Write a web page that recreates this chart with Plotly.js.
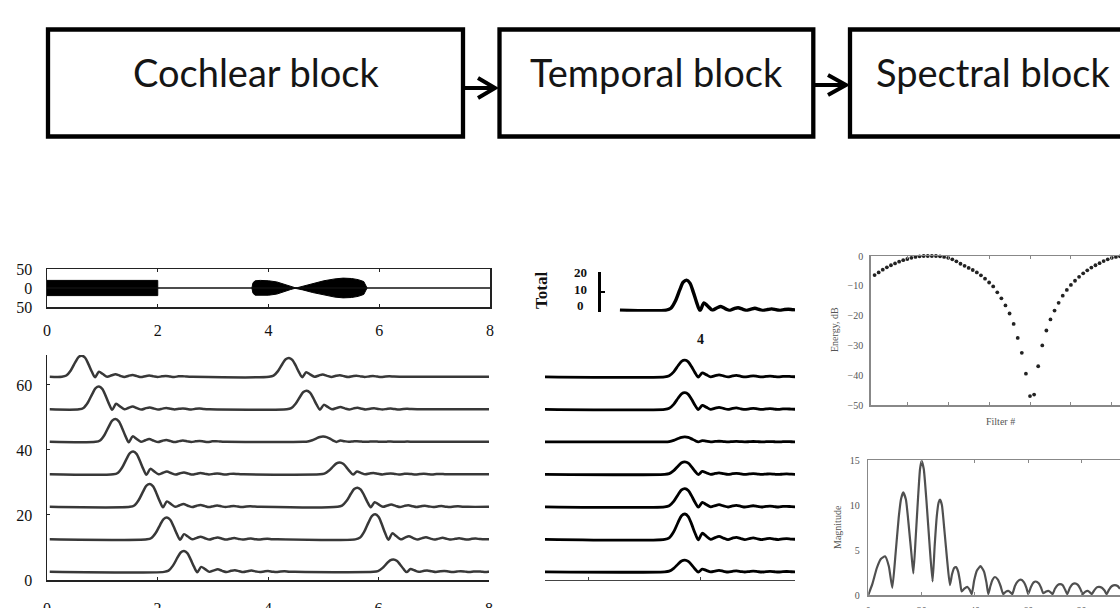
<!DOCTYPE html>
<html><head><meta charset="utf-8">
<script src="https://cdn.plot.ly/plotly-3.0.1.min.js"></script>
<style>html,body{margin:0;padding:0;background:#fff}#chart{width:1120px;height:608px}</style>
</head><body><div id="chart"></div>
<script>
// ---------- Block diagram labels ----------
const blockLabels = ['Cochlear block', 'Temporal block', 'Spectral block'];

// ---------- Left top: stimulus waveform ----------
const waveXTicks = [0, 2, 4, 6, 8];
const waveYTickVals = [-50, 0, 50];
const waveYTickText = ['50', '0', '50'];
const burst1T = [0.0, 0.0, 2.0, 2.0];
const burst1A = [0, 20, 20, 0];
const burst2T = [3.70, 3.72, 3.76, 3.85, 4.00, 4.15, 4.28, 4.40, 4.48, 4.52, 4.62, 4.80, 5.00, 5.20, 5.35, 5.50, 5.62, 5.72, 5.78];
const burst2A = [0, 14, 19, 20, 19, 16, 10, 4, 0.8, 0.8, 5, 12, 19, 24, 26, 25, 22, 17, 0];

// ---------- Left bottom: cochlear channels ----------
const chanXTicks = [0, 2, 4, 6, 8];
const chanYTicks = [0, 20, 40, 60];
const chanBase = [62.5, 52.5, 42.5, 32.5, 22.5, 12.5, 2.5];
const chanPeak1T = [0.63, 0.94, 1.24, 1.56, 1.86, 2.17, 2.48];
const chanPeak1A = [6.5, 7.0, 7.0, 7.0, 7.0, 6.7, 6.4];
const chanPeak2T = [4.38, 4.70, 5.00, 5.30, 5.62, 5.94, 6.27];
const chanPeak2A = [5.8, 5.7, 1.6, 3.6, 5.9, 7.7, 3.8];
// pulse shape (time offset from peak, fraction of peak height)
const pulseDt    = [-0.36, -0.28, -0.20, -0.12, -0.06, 0, 0.06, 0.12, 0.18, 0.24, 0.31, 0.38, 0.46, 0.54, 0.61, 0.69, 0.77, 0.85, 0.92, 1.00, 1.07, 1.15, 1.22, 1.30, 1.37, 1.45, 1.52, 1.60, 1.67, 1.75, 1.82, 1.90, 2.00];
const pulseShape = [0, 0.06, 0.30, 0.68, 0.93, 1, 0.90, 0.60, 0.25, -0.02, 0.24, 0.13, 0.0, 0.07, 0.12, 0.05, -0.01, 0.05, 0.08, 0.03, -0.01, 0.03, 0.06, 0.02, -0.01, 0.02, 0.04, 0.01, -0.01, 0.02, 0.03, 0.01, 0];

// ---------- Middle: temporal block outputs ----------
const tempBase = [62.5, 52.5, 42.5, 32.5, 22.5, 12.5, 2.5];
const tempPeakT = [3.73, 3.73, 3.73, 3.73, 3.73, 3.73, 3.73];
const tempPeakA = [5.1, 5.1, 1.5, 3.8, 5.6, 7.8, 3.6];
const tempXTicks = [2, 4];
const totalBase = 0.8, totalPeakT = 3.76, totalPeakA = 15;
const totalTickText = ['20', '10', '0'];
const totalXTickText = ['4'];

// ---------- Right top: energy per filter ----------
const filterNum = [1,2,3,4,5,6,7,8,9,10,11,12,13,14,15,16,17,18,19,20,21,22,23,24,25,26,27,28,29,30,31,32,33,34,35,36,37,38,39,40,41,42,43,44,45,46,47,48,49,50,51,52,53,54,55,56,57,58,59,60,61,62];
const energyDb = [-7.5,-6.4,-5.5,-4.6,-3.8,-3.1,-2.5,-1.9,-1.4,-1.0,-0.6,-0.3,-0.1,0,0,0,0,-0.1,-0.3,-0.6,-1.1,-1.8,-2.6,-3.3,-4.0,-4.7,-5.5,-6.5,-7.6,-8.9,-10.2,-12.2,-14.2,-16.6,-19.3,-22.8,-27.5,-32.5,-39.5,-47.0,-46.5,-37.0,-30.0,-25.0,-21.3,-18.3,-15.7,-13.3,-11.4,-9.7,-8.3,-7.0,-5.8,-4.8,-3.9,-3.1,-2.4,-1.7,-1.1,-0.6,-0.3,-0.1];
const energyYTicks = [0, -10, -20, -30, -40, -50];
const filterXTicks = [10, 20, 30, 40, 50, 60];

// ---------- Right bottom: magnitude spectrum ----------
const magX = [0, 1.5, 3.2, 4.7, 6.3, 7.7, 9.0, 10.2, 11.4, 12.3, 13.1, 14.1, 15.3, 16.2, 16.9, 17.8, 18.7, 19.4, 20.0, 20.8, 21.8, 23.0, 24.1, 24.9, 25.7, 26.4, 26.9, 27.6, 28.6, 29.6, 30.6, 31.4, 32.2, 32.9, 33.7, 34.4, 35.0, 36.0, 37.1, 38.0, 38.8, 39.7, 40.7, 42.1, 43.4, 44.3, 45.0, 45.8, 46.6, 47.5, 48.6, 49.6, 50.6, 51.5, 52.5, 53.3, 54.0, 55.0, 56.0, 57.2, 58.4, 59.3, 60.0, 61.0, 62.0, 62.8, 63.9, 64.8, 65.6, 66.5, 67.5, 68.4, 69.1, 70.0, 71.0, 71.9, 72.9, 73.8, 74.6, 75.6, 76.6, 77.5, 78.5, 79.5, 80.4, 81.3, 82.3, 83.1, 83.8, 84.8, 85.7, 86.6, 87.6, 88.6, 89.4, 90.3, 91.4, 92.5, 93.5, 94.4];
const magY = [0, 1.2, 3.0, 4.0, 4.3, 3.2, 0.8, 4.5, 8.6, 10.7, 11.4, 10.6, 7.3, 4.5, 2.4, 6.5, 11.0, 14.0, 14.9, 14.0, 10.5, 5.5, 1.5, 5.5, 8.8, 10.3, 10.6, 10.0, 7.0, 3.8, 1.1, 2.3, 3.0, 3.1, 2.6, 1.5, 0.4, 0.7, 0.9, 0.6, 0.1, 1.6, 2.7, 3.2, 2.6, 1.4, 0.1, 1.0, 1.7, 2.0, 1.7, 1.0, 0.1, 0.35, 0.45, 0.3, 0.1, 1.0, 1.5, 1.7, 1.4, 0.8, 0.1, 0.9, 1.4, 1.5, 1.3, 0.8, 0.2, 0.35, 0.45, 0.3, 0.1, 0.7, 1.1, 1.2, 1.1, 0.6, 0.1, 0.8, 1.2, 1.3, 1.15, 0.7, 0.1, 0.35, 0.45, 0.3, 0.1, 0.55, 0.85, 0.9, 0.8, 0.5, 0.1, 0.6, 1.0, 1.1, 1.0, 0.7];
const magXTicks = [0, 20, 40, 60, 80];
const magYTicks = [0, 5, 10, 15];

// ---------- helpers (pixel -> paper) ----------
const W = 1120, H = 608;
const px = v => v / W;
const py = v => 1 - v / H;

function pulseTrain(base, peaksT, peaksA, t0, t1) {
  const xs = [t0], ys = [base];
  peaksT.forEach((p, i) => {
    pulseDt.forEach((d, k) => { xs.push(p + d); ys.push(base + peaksA[i] * pulseShape[k]); });
  });
  xs.push(t1); ys.push(base);
  return {xs, ys};
}

const traces = [];
const serif = 'Liberation Serif, Times New Roman, serif';

// waveform bursts
[[burst1T, burst1A], [burst2T, burst2A]].forEach(([t, a]) => {
  const xs = t.concat(t.slice().reverse());
  const ys = a.concat(a.slice().reverse().map(v => -v));
  traces.push({x: xs, y: ys, xaxis: 'x', yaxis: 'y', mode: 'lines', fill: 'toself',
    fillcolor: '#000', line: {color: '#000', width: 1}, hoverinfo: 'skip'});
});
traces.push({x: [0, 8], y: [0, 0], xaxis: 'x', yaxis: 'y', mode: 'lines', line: {color: '#111', width: 1.5}, hoverinfo: 'skip'});

// cochlear channels
chanBase.forEach((b, i) => {
  const r = pulseTrain(b, [chanPeak1T[i], chanPeak2T[i]], [chanPeak1A[i], chanPeak2A[i]], 0.05, 8);
  traces.push({x: r.xs, y: r.ys, xaxis: 'x4', yaxis: 'y4', mode: 'lines',
    line: {color: '#383838', width: 2.5, shape: 'spline', smoothing: 0.8}, hoverinfo: 'skip'});
});

// temporal channels
tempBase.forEach((b, i) => {
  const r = pulseTrain(b, [tempPeakT[i]], [tempPeakA[i]], 1.232, 5.696);
  traces.push({x: r.xs, y: r.ys, xaxis: 'x2', yaxis: 'y2', mode: 'lines',
    line: {color: '#000', width: 2.8, shape: 'spline', smoothing: 0.8}, hoverinfo: 'skip'});
});
// total
{
  const r = pulseTrain(totalBase, [totalPeakT], [totalPeakA], 2.57, 5.696);
  traces.push({x: r.xs, y: r.ys, xaxis: 'x3', yaxis: 'y3', mode: 'lines',
    line: {color: '#000', width: 3.4, shape: 'spline', smoothing: 0.8}, hoverinfo: 'skip'});
}

// energy dots
traces.push({x: filterNum, y: energyDb, xaxis: 'x5', yaxis: 'y5', mode: 'markers',
  marker: {size: 3.8, color: '#222'}, cliponaxis: false, hoverinfo: 'skip'});

// magnitude
traces.push({x: magX, y: magY, xaxis: 'x6', yaxis: 'y6', mode: 'lines',
  line: {color: '#505050', width: 2.2, shape: 'spline', smoothing: 0.5}, hoverinfo: 'skip'});

const leftFont = {family: serif, size: 16, color: '#111'};
const rightFont = {family: serif, size: 10, color: '#555'};

const layout = {
  width: W, height: H, margin: {l: 0, r: 0, t: 0, b: 0},
  paper_bgcolor: '#fff', plot_bgcolor: 'rgba(0,0,0,0)', showlegend: false,
  // waveform
  xaxis: {domain: [px(47), px(490)], range: [0, 8], anchor: 'y', showline: true, mirror: 'ticks',
    linecolor: '#222', linewidth: 1.5, ticks: 'inside', ticklen: 3, tickcolor: '#222', tickvals: waveXTicks,
    showgrid: false, zeroline: false, tickfont: leftFont, ticklabelstandoff: 8, fixedrange: true},
  yaxis: {domain: [py(307), py(269)], range: [-50, 50], anchor: 'x', showline: true, mirror: true,
    linecolor: '#222', linewidth: 1.5, ticks: '', tickvals: waveYTickVals, ticktext: waveYTickText,
    showgrid: false, zeroline: false, tickfont: leftFont, ticklabelstandoff: 10, fixedrange: true},
  // cochlear channels
  xaxis4: {domain: [px(47), px(489)], range: [0, 8], anchor: 'y4', showline: true, linecolor: '#222',
    linewidth: 1.5, ticks: 'inside', ticklen: 3, tickcolor: '#222', tickvals: chanXTicks, showgrid: false,
    zeroline: false, tickfont: leftFont, ticklabelstandoff: 13, fixedrange: true},
  yaxis4: {domain: [py(580), py(355)], range: [0, 69.2], anchor: 'x4', showline: true, linecolor: '#222',
    linewidth: 1.5, ticks: 'inside', ticklen: 3, tickcolor: '#222', tickvals: chanYTicks, showgrid: false,
    zeroline: false, tickfont: leftFont, ticklabelstandoff: 10, fixedrange: true},
  // temporal
  xaxis2: {domain: [px(545), px(795)], range: [1.232, 5.696], anchor: 'y2', showline: true, linecolor: '#444',
    linewidth: 1.2, ticks: 'inside', ticklen: 3, tickcolor: '#444', tickvals: tempXTicks, showticklabels: false,
    showgrid: false, zeroline: false, fixedrange: true},
  yaxis2: {domain: [py(580), py(355)], range: [0, 69.2], anchor: 'x2', visible: false, fixedrange: true},
  xaxis3: {domain: [px(545), px(795)], matches: 'x2', anchor: 'y3', visible: false, fixedrange: true},
  yaxis3: {domain: [py(311.7), py(271.7)], range: [0, 20], anchor: 'free', position: px(599), showline: true,
    linecolor: '#000', linewidth: 3, ticks: 'inside', ticklen: 4, tickwidth: 2, tickcolor: '#000',
    tickvals: [10], showticklabels: false, showgrid: false, zeroline: false, fixedrange: true},
  // energy
  xaxis5: {domain: [px(870.7), 1], range: [1.05, 62.0], anchor: 'y5', showline: true, mirror: 'ticks',
    linecolor: '#888', linewidth: 1.5, ticks: 'inside', ticklen: 3, tickcolor: '#888', tickvals: filterXTicks,
    showticklabels: false, showgrid: false, zeroline: false, fixedrange: true},
  yaxis5: {domain: [py(405), py(256)], range: [-50, 0], anchor: 'x5', showline: true, linecolor: '#888',
    linewidth: 1.5, ticks: '', tickvals: energyYTicks, showgrid: false, zeroline: false, tickfont: rightFont,
    ticklabelstandoff: 4, fixedrange: true},
  // magnitude
  xaxis6: {domain: [px(868.3), 1], range: [0, 94.4], anchor: 'y6', showline: true, mirror: 'ticks',
    linecolor: '#888', linewidth: 1.5, ticks: 'inside', ticklen: 3, tickcolor: '#888', tickvals: magXTicks,
    showgrid: false, zeroline: false, tickfont: rightFont, ticklabelstandoff: 5, fixedrange: true},
  yaxis6: {domain: [py(595), py(460)], range: [0, 15], anchor: 'x6', showline: true, linecolor: '#888',
    linewidth: 1.5, ticks: '', tickvals: magYTicks, showgrid: false, zeroline: false, tickfont: rightFont,
    ticklabelstandoff: 5, fixedrange: true},
  shapes: [
    {type: 'rect', xref: 'paper', yref: 'paper', x0: px(48), x1: px(463), y0: py(136.5), y1: py(29.5), line: {color: '#000', width: 4.3}},
    {type: 'rect', xref: 'paper', yref: 'paper', x0: px(499.5), x1: px(813.3), y0: py(136.5), y1: py(29.5), line: {color: '#000', width: 4.3}},
    {type: 'rect', xref: 'paper', yref: 'paper', x0: px(850), x1: px(1135), y0: py(136.5), y1: py(29.5), line: {color: '#000', width: 4.3}},
    {type: 'path', xref: 'paper', yref: 'paper', line: {color: '#000', width: 4},
      path: `M ${px(465)} ${py(88)} L ${px(494)} ${py(88)} M ${px(478)} ${py(78)} L ${px(495)} ${py(88)} L ${px(478)} ${py(98)}`},
    {type: 'path', xref: 'paper', yref: 'paper', line: {color: '#000', width: 4},
      path: `M ${px(815)} ${py(85)} L ${px(845)} ${py(85)} M ${px(828)} ${py(75)} L ${px(846)} ${py(85)} L ${px(828)} ${py(95)}`}
  ],
  annotations: [
    {text: blockLabels[0], xref: 'paper', yref: 'paper', x: px(256), y: py(72), xanchor: 'center', yanchor: 'middle', showarrow: false, font: {family: 'Lato', size: 38, color: '#151515'}},
    {text: blockLabels[1], xref: 'paper', yref: 'paper', x: px(656), y: py(72), xanchor: 'center', yanchor: 'middle', showarrow: false, font: {family: 'Lato', size: 38, color: '#151515'}},
    {text: blockLabels[2], xref: 'paper', yref: 'paper', x: px(874), y: py(72), xanchor: 'left', yanchor: 'middle', showarrow: false, font: {family: 'Lato', size: 38, color: '#151515'}},
    {text: '<b>Total</b>', xref: 'paper', yref: 'paper', x: px(541), y: py(291), textangle: -90, xanchor: 'center', yanchor: 'middle', showarrow: false, font: {family: serif, size: 17, color: '#111'}},
    {text: '<b>' + totalTickText[0] + '</b>', xref: 'paper', yref: 'paper', x: px(589), y: py(272.5), xanchor: 'right', yanchor: 'middle', showarrow: false, font: {family: serif, size: 13, color: '#111'}},
    {text: '<b>' + totalTickText[1] + '</b>', xref: 'paper', yref: 'paper', x: px(589), y: py(289), xanchor: 'right', yanchor: 'middle', showarrow: false, font: {family: serif, size: 13, color: '#111'}},
    {text: '<b>' + totalTickText[2] + '</b>', xref: 'paper', yref: 'paper', x: px(586), y: py(305), xanchor: 'right', yanchor: 'middle', showarrow: false, font: {family: serif, size: 13, color: '#111'}},
    {text: '<b>' + totalXTickText[0] + '</b>', xref: 'paper', yref: 'paper', x: px(700), y: py(339), xanchor: 'center', yanchor: 'middle', showarrow: false, font: {family: serif, size: 14, color: '#111'}},
    {text: 'Energy, dB', xref: 'paper', yref: 'paper', x: px(834), y: py(330), textangle: -90, xanchor: 'center', yanchor: 'middle', showarrow: false, font: rightFont},
    {text: 'Filter #', xref: 'paper', yref: 'paper', x: px(1000), y: py(421), xanchor: 'center', yanchor: 'middle', showarrow: false, font: rightFont},
    {text: 'Magnitude', xref: 'paper', yref: 'paper', x: px(837), y: py(527), textangle: -90, xanchor: 'center', yanchor: 'middle', showarrow: false, font: rightFont}
  ]
};

Plotly.newPlot('chart', traces, layout, {staticPlot: true, displayModeBar: false});
</script>
</body></html>
